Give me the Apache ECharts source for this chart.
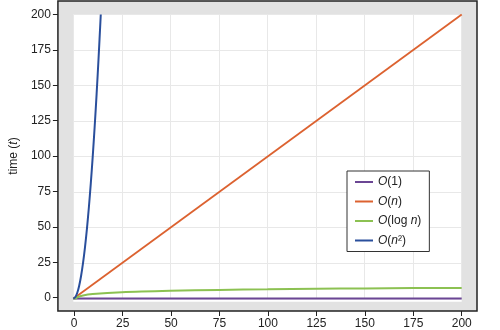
<!DOCTYPE html>
<html>
<head>
<meta charset="utf-8">
<script src="https://cdn.jsdelivr.net/npm/echarts@6/dist/echarts.min.js"></script>
<style>html,body{margin:0;padding:0;background:#fff}#c{width:500px;height:330px}</style>
</head>
<body>
<div id="c"></div>
<script>
// Data
var xTicks = [0, 25, 50, 75, 100, 125, 150, 175, 200];
var yTicks = [0, 25, 50, 75, 100, 125, 150, 175, 200];

var constN = [0, 200];
var constT = [0, 0];

var linN = [0, 200];
var linT = [0, 200];

var logN = [0, 1, 2, 5, 10, 25, 50, 75, 100, 125, 150, 175, 200];
var logT = [0, 0, 1, 2.3, 3.3, 4.6, 5.6, 6.2, 6.6, 7.0, 7.2, 7.45, 7.6];

var sqN = [0, 1, 2, 3, 4, 5, 6, 7, 8, 9, 10, 11, 12, 13, 14, 14.14];
var sqT = [0, 1, 4, 9, 16, 25, 36, 49, 64, 81, 100, 121, 144, 169, 196, 200];

var seriesNames = ['O(1)', 'O(n)', 'O(log n)', 'O(n²)'];
var legendRich = {
  'O(1)': '{i|O}(1)',
  'O(n)': '{i|O}({i|n})',
  'O(log n)': '{i|O}(log {i|n})',
  'O(n²)': '{i|O}({i|n}²)'
};
var colors = ['#6b4694', '#dc6230', '#8cc152', '#2a4f9c'];

function pairs(xs, ys) { return xs.map(function (x, i) { return [x, ys[i]]; }); }

// frame grid (x 57..477, y 1..312) extends the data range beyond 0..200
var xLo = xTicks[0] - 16.3 / 1.942, xHi = xTicks[xTicks.length - 1] + 15.3 / 1.942;
var yLo = yTicks[0] - 13.3 / 1.421, yHi = yTicks[yTicks.length - 1] + 13.5 / 1.421;

var FONT = 'Liberation Sans, Arial, sans-serif';
var tickStyle = {show: true, inside: false, length: 5, lineStyle: {color: '#222', width: 1}};
var chart = echarts.init(document.getElementById('c'), null, {renderer: 'canvas'});
chart.setOption({
  animation: false,
  backgroundColor: '#fff',
  color: colors,
  textStyle: {fontFamily: FONT},
  grid: [
    {left: 57, top: 1, right: 23, bottom: 18, show: true, backgroundColor: '#e2e2e2', borderColor: '#222', borderWidth: 1.5},
    {left: 73.3, top: 14.5, right: 38.3, bottom: 28.3, show: true, backgroundColor: '#fff', borderWidth: 0},
    {left: 73.3, top: 14.5, right: 38.3, bottom: 31.3, show: false}
  ],
  xAxis: [
    {gridIndex: 0, type: 'value', min: xLo, max: xHi,
      axisLine: {show: false, onZero: false},
      axisTick: Object.assign({customValues: xTicks}, tickStyle),
      axisLabel: {customValues: xTicks, color: '#222', fontSize: 12, margin: 7, fontFamily: FONT},
      splitLine: {show: false}
    },
    {gridIndex: 1, type: 'value', show: false},
    {gridIndex: 2, type: 'value', min: xTicks[0], max: xTicks[xTicks.length - 1], interval: 25,
      axisLine: {show: false}, axisTick: {show: false}, axisLabel: {show: false},
      splitLine: {show: true, lineStyle: {color: '#e8e8e8', width: 1}}
    }
  ],
  yAxis: [
    {gridIndex: 0, type: 'value', min: yLo, max: yHi,
      name: 'time ({i|t})', nameLocation: 'middle', nameGap: 32,
      nameTextStyle: {color: '#222', fontSize: 12, fontFamily: FONT, rich: {i: {fontStyle: 'italic', fontSize: 12, color: '#222', fontFamily: FONT}}},
      axisLine: {show: false, onZero: false},
      axisTick: Object.assign({customValues: yTicks}, tickStyle),
      axisLabel: {customValues: yTicks, color: '#222', fontSize: 12, margin: 7, fontFamily: FONT},
      splitLine: {show: false}
    },
    {gridIndex: 1, type: 'value', show: false},
    {gridIndex: 2, type: 'value', min: yTicks[0], max: yTicks[yTicks.length - 1], interval: 25,
      axisLine: {show: false}, axisTick: {show: false}, axisLabel: {show: false},
      splitLine: {show: true, lineStyle: {color: '#e8e8e8', width: 1}}
    }
  ],
  legend: {
    orient: 'vertical', left: 347, top: 171,
    data: seriesNames.map(function (n) { return {name: n, icon: 'rect'}; }),
    backgroundColor: '#fff', borderColor: '#333', borderWidth: 1,
    padding: [5, 8, 5, 8],
    itemWidth: 18, itemHeight: 2, itemGap: 7.5,
    formatter: function (name) { return legendRich[name]; },
    textStyle: {color: '#222', fontSize: 12, fontFamily: FONT,
      rich: {i: {fontStyle: 'italic', fontSize: 12, color: '#222', fontFamily: FONT}}}
  },
  series: [
    {name: seriesNames[0], type: 'line', xAxisIndex: 2, yAxisIndex: 2, symbol: 'none', data: pairs(constN, constT), lineStyle: {width: 2.2, color: colors[0]}, itemStyle: {color: colors[0]}},
    {name: seriesNames[1], type: 'line', xAxisIndex: 2, yAxisIndex: 2, symbol: 'none', data: pairs(linN, linT), lineStyle: {width: 1.8, color: colors[1]}, itemStyle: {color: colors[1]}},
    {name: seriesNames[2], type: 'line', xAxisIndex: 2, yAxisIndex: 2, symbol: 'none', smooth: 0.3, data: pairs(logN, logT), lineStyle: {width: 2, color: colors[2]}, itemStyle: {color: colors[2]}},
    {name: seriesNames[3], type: 'line', xAxisIndex: 2, yAxisIndex: 2, symbol: 'none', smooth: 0.3, data: pairs(sqN, sqT), lineStyle: {width: 2, color: colors[3]}, itemStyle: {color: colors[3]}}
  ]
});
</script>
</body>
</html>
